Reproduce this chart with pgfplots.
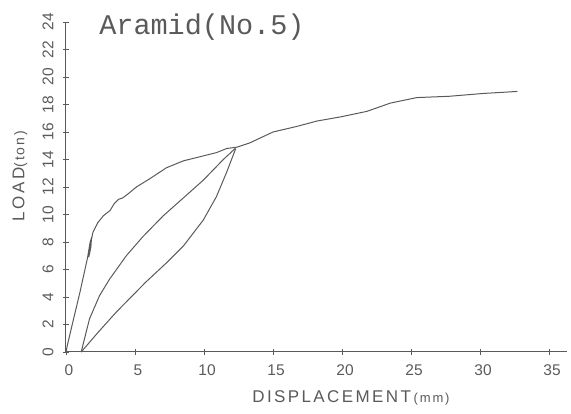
\documentclass[border=0pt]{standalone}
\usepackage{pgfplots}
\pgfplotsset{compat=1.18}
\usepackage{fontspec}
\setmainfont{Liberation Sans}
\newfontfamily\plotmono{Liberation Mono}
\newfontfamily\plotlabel[LetterSpace=14]{Liberation Sans}
\usetikzlibrary{calc}
\definecolor{ink}{HTML}{5A5A5A}

\begin{document}
\begin{tikzpicture}
\begin{axis}[
  scale only axis,
  width=501pt, height=330pt,
  xmin=0, xmax=36.3, ymin=0, ymax=24,
  axis lines*=left,
  axis line style={ink, line width=1pt},
  xtick={0,5,...,35},
  ytick={0,2,...,24},
  tick align=center,
  major tick length=6pt,
  tick style={ink, line width=0.9pt},
  /pgf/number format/assume math mode=true,
  tick label style={font=\fontsize{15.5}{15.5}\selectfont, text=ink},
  xticklabel style={xshift=3pt},
  yticklabel style={rotate=90, anchor=south},
  yticklabel shift=6pt,
  xticklabel shift=6pt,
  clip=false,
]
% loading curve (with small reload loop near 8 ton)
\addplot[ink, line width=1pt] coordinates {
  (0,0)(0.1,0.5)(0.5,2.2)(1.0,4.3)(1.33,5.8)(1.55,6.8)(1.75,8.0)(1.85,8.3)
  (1.8,7.6)(1.65,6.9)(1.7,7.3)(1.85,8.2)(1.95,8.7)(2.3,9.4)(2.7,9.9)(3.2,10.3)
  (3.5,10.8)(3.8,11.1)(4.1,11.2)(4.5,11.5)(5.1,12.0)(6.07,12.6)(7.28,13.4)
  (8.5,13.9)(9.7,14.2)(10.9,14.5)(11.65,14.8)(12.4,14.9)(13.3,15.2)(15.0,16.0)
  (16.7,16.4)(18.2,16.8)(19.9,17.1)(21.8,17.5)(23.5,18.1)(25.4,18.5)(27.8,18.6)
  (30.2,18.8)(32.7,18.95)
};
% unloading
\addplot[ink, line width=1pt] coordinates {
  (12.3,14.8)(11.65,13.1)(10.9,11.3)(9.95,9.6)(8.5,7.7)(7.3,6.5)(5.8,5.1)
  (3.64,2.9)(2.3,1.4)(1.1,0)
};
% reloading
\addplot[ink, line width=1pt] coordinates {
  (1.1,0)(1.4,1.2)(1.7,2.4)(2.43,4.1)(3.16,5.3)(4.37,7.0)(5.58,8.4)(7.04,9.9)
  (8.5,11.2)(9.95,12.5)(11.4,14.0)(12.26,14.8)
};
\node[anchor=base west, text=ink, font=\plotmono\fontsize{28.5}{28.5}\selectfont, inner sep=0pt]
  at (axis cs:2.4,23.1) {Aramid(No.5)};
\node[text=ink, font=\plotlabel\fontsize{17}{17}\selectfont] at ($(axis cs:20.65,0)+(0,-46pt)$)
  {DISPLACEMENT\,{\fontsize{13}{13}\selectfont(mm)}};
\node[text=ink, rotate=90, font=\plotlabel\fontsize{17}{17}\selectfont] at ($(axis cs:0,12.8)+(-46pt,0)$)
  {LOAD{\fontsize{14}{14}\selectfont(ton)}};
\coordinate (O) at (axis cs:0,0);
\end{axis}
\pgfresetboundingbox
\path ($(O)+(-66pt,-62pt)$) rectangle ($(O)+(505pt,352pt)$);
\end{tikzpicture}
\end{document}
